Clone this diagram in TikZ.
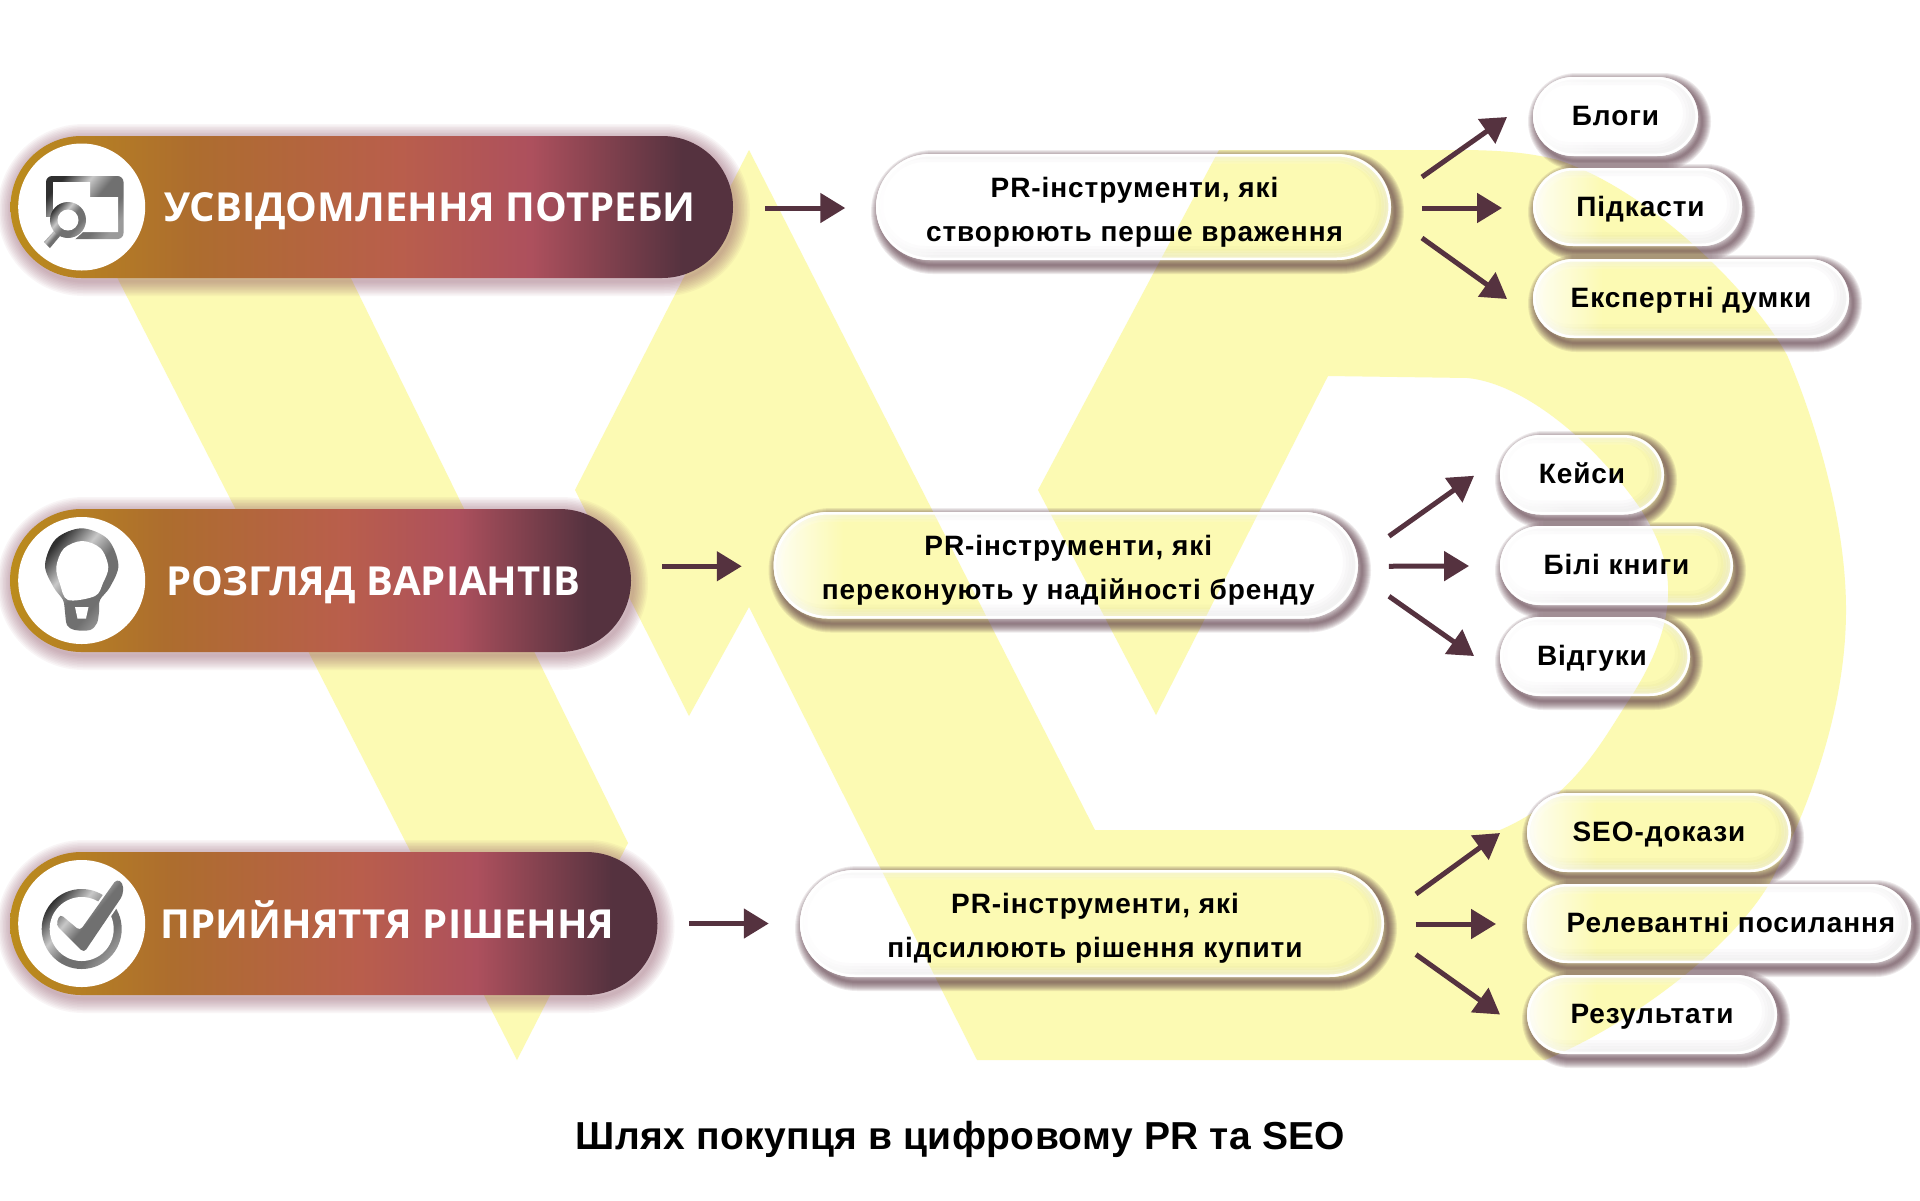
\documentclass[tikz,border=0pt]{standalone}
\usepackage{fontspec}
\usetikzlibrary{arrows.meta,fadings}
\newfontfamily\lightf[LetterSpace=3.3]{Liberation Sans}
\newfontfamily\darkf{Open Sans}
\newfontfamily\titlef[LetterSpace=0.9]{Liberation Sans}
\definecolor{g1}{HTML}{BB8C1C}
\definecolor{g2}{HTML}{AD6D2E}
\definecolor{g3}{HTML}{B95E4C}
\definecolor{g4}{HTML}{AD505D}
\definecolor{g5}{HTML}{55323F}
\definecolor{glow}{HTML}{8A4A60}
\definecolor{logoy}{HTML}{FCFAB3}
\definecolor{arrowc}{HTML}{55323F}
\definecolor{m1}{HTML}{303030}
\definecolor{m2}{HTML}{C8C8C8}
\definecolor{m3}{HTML}{707070}
\definecolor{m4}{HTML}{9A9A9A}
\pgfdeclarehorizontalshading{pillgrad}{100bp}{color(0bp)=(g1); color(25bp)=(g1); color(37.5bp)=(g2); color(52bp)=(g3); color(61bp)=(g4); color(71.5bp)=(g5); color(100bp)=(g5)}
\pgfdeclarehorizontalshading{metal}{100bp}{color(0bp)=(m1); color(25bp)=(m1); color(40bp)=(m2); color(52bp)=(m3); color(65bp)=(m3); color(75bp)=(m4); color(100bp)=(m4)}
\def\pillp{(\xa+\rr,\ya) -- (\xb-\rr,\ya) .. controls (\xb-\kk,\ya) and (\xb,\ya+\kk) .. (\xb,\ya+\rr) .. controls (\xb,\yb-\kk) and (\xb-\kk,\yb) .. (\xb-\rr,\yb) -- (\xa+\rr,\yb) .. controls (\xa+\kk,\yb) and (\xa,\yb-\kk) .. (\xa,\ya+\rr) .. controls (\xa,\ya+\kk) and (\xa+\kk,\ya) .. (\xa+\rr,\ya) -- cycle}
\newcommand\setpill[4]{\pgfmathsetmacro\xa{#1}\pgfmathsetmacro\ya{#2}\pgfmathsetmacro\xb{#3}\pgfmathsetmacro\yb{#4}\pgfmathsetmacro\rr{(#4-#2)/2}\pgfmathsetmacro\kk{\rr*0.4477}\pgfmathsetmacro\wid{(#3-#1)*0.5}\pgfmathsetmacro\hei{(#4-#2)*0.5}\pgfmathsetmacro\crad{(#4-#2)*0.25}}
\newcommand\sline[1]{\raisebox{0pt}[9pt][0pt]{#1}}
\newcommand\dline[1]{\raisebox{0pt}[14.5pt][0pt]{#1}}
\newcommand\tline{\rule{0pt}{15pt}}
% name, x1, y1, x2, y2, text
\newcommand\lpill[6]{%
 \setpill{#2}{#3}{#4}{#5}%
 \begin{scope}
  \clip (-100,-100) -- (-100,1300) -- (2100,1300) -- (2100,-100) -- cycle \pillp;
  \begin{scope}[shift={(4,5)}]
   \foreach \w in {2,4,6,8,10,12,14,16,18}
    \draw[draw=g5,draw opacity=0.10,line width=\w*0.5pt] \pillp;
  \end{scope}
 \end{scope}
 \begin{scope}
  \clip \pillp;
  \begin{scope}[shift={(-4,-3)}]
   \foreach \w in {4,10,16,22}
    \draw[draw=g5,draw opacity=0.02,line width=\w*0.5pt] \pillp;
  \end{scope}
  \fill[white,fill opacity=0.85,path fading=east] (\xa,\ya) rectangle (\xa+70,\yb);
  \foreach \w in {4,9,14,19}
   \draw[draw=white,draw opacity=0.14,line width=\w*0.5pt] \pillp;
 \end{scope}
 \node[lightbox,minimum width=\wid pt-1.25pt,minimum height=\hei pt-1.25pt,rounded corners=\crad pt] (#1) at ({(\xa+\xb)/2},{(\ya+\yb)/2}) {#6};
}
% name, x1, y1, x2, y2, text
\newcommand\dpill[6]{%
 \setpill{#2}{#3}{#4}{#5}%
 \begin{scope}[shift={(2,3)}]
  \foreach \w in {3,6,9,12,15,18,21,24,27,30}
   \draw[draw=glow,draw opacity=0.05,line width=\w*0.5pt] \pillp;
 \end{scope}
 \node[darkbox,minimum width=\wid pt,minimum height=\hei pt,rounded corners=\crad pt] (#1) at ({(\xa+\xb)/2},{(\ya+\yb)/2}) {#6};
}
\tikzset{
 lightbox/.style={rectangle,draw=white,line width=1.25pt,inner sep=0pt,outer sep=0pt,align=center,text=black,font=\lightf\bfseries\fontsize{14}{22}\selectfont},
 darkbox/.style={rectangle,shade,shading=pillgrad,inner sep=0pt,outer sep=0pt,text=white,font=\darkf\bfseries\fontsize{20}{24}\selectfont},
 dot/.style={circle,fill=white,inner sep=0pt,outer sep=0pt,minimum size=63.5pt},
 arr/.style={draw=arrowc,line width=2.5pt,-{Triangle[length=12.5pt,width=14.5pt]}},
 titlebox/.style={inner sep=0pt,text=black,font=\titlef\bfseries\fontsize{19.5}{23}\selectfont},
 metalfill/.style={shade,shading=metal,shading angle=-40,draw=none}
}
\begin{document}
\begin{tikzpicture}[x=0.5pt,y=-0.5pt]
\useasboundingbox (0,0) rectangle (1920,1200);
\fill[white] (0,0) rectangle (1920,1200);
% logo
\fill[logoy] (52,150) -- (288,150) -- (628,843) -- (517,1060) -- cycle;
\fill[logoy,line join=round] (749,150) -- (575,490) -- (689,716) -- (749,607) -- (977,1060) -- (1545,1060)
 .. controls (1640,1020) and (1740,940) .. (1773,877)
 .. controls (1800,825) and (1846,720) .. (1846,610)
 .. controls (1846,500) and (1800,385) .. (1787,355)
 .. controls (1750,290) and (1650,190) .. (1558,160)
 .. controls (1520,150) and (1480,150) .. (1450,150)
 -- (1219,150) -- (1038,490) -- (1156,715) -- (1328,376) -- (1468,378)
 .. controls (1530,385) and (1600,450) .. (1640,508)
 .. controls (1670,555) and (1690,610) .. (1625,706)
 .. controls (1600,745) and (1570,800) .. (1500,830)
 -- (1095,830) -- cycle;
% dark pills
\dpill{p1}{10.5}{136}{733}{278}{\hspace*{58pt}\dline{УСВІДОМЛЕННЯ ПОТРЕБИ}}
\dpill{p2}{10}{509}{631}{652}{\hspace*{53pt}\dline{РОЗГЛЯД ВАРІАНТІВ}}
\dpill{p3}{10}{852}{657.5}{995}{\hspace*{54pt}\dline{ПРИЙНЯТТЯ РІШЕННЯ}}
\node[dot] (c1) at (81.7,207) {};
\node[dot] (c2) at (81.7,580.5) {};
\node[dot] (c3) at (81.7,923.5) {};
% icon 1
\path[metalfill,rounded corners=3pt] (46,176) rectangle (123.5,239);
\fill[white] (53,182) -- (90,182) -- (90,197) -- (118,197) -- (118,232) -- (83,232) -- (72,242) -- (46,248) -- (45,217) -- (53,217) -- cycle;
\path[metalfill] (55,230) -- (60,236) -- (50,248) -- (44,242) -- cycle;
\path[metalfill] (68,220) circle[radius=18];
\fill[white] (68,220) circle[radius=10.5];
% icon 2
\path[metalfill] plot[smooth cycle,tension=.55] coordinates {(81.7,528.3) (107.6,539) (118.4,565) (110,587) (100,600) (99,612) (97,623) (90,630) (75,630) (67,625) (65,612) (63,600) (53.5,587) (45,565) (55.8,539)};
\fill[white] plot[smooth cycle,tension=.55] coordinates {(82.3,541) (100.7,548.5) (108.3,567) (103,583) (95,596) (68,600) (60,584) (56.3,567) (63.9,548.5)};
\fill[white] (75,607) -- (88.5,607) -- (86,618.5) -- (77.5,618.5) -- cycle;
% icon 3
\path[metalfill] (81.7,929) circle[radius=40];
\fill[white] (81.7,929) circle[radius=32];
\draw[white,line width=2pt,line join=round] (60,914) -- (80,930.7) -- (116.7,879) -- (123,883) -- (123,895) -- (84,952.7) -- (56,925) -- cycle;
\path[metalfill,rounded corners=2pt] (60,914) -- (80,930.7) -- (116.7,879) -- (123,883) -- (123,895) -- (84,952.7) -- (56,925) -- cycle;
% light pills
\lpill{m1}{876}{154}{1391}{260}{\tline\hspace*{1pt}PR-інструменти, які\\\hspace*{1pt}створюють перше враження}
\lpill{m2}{773.5}{512}{1358}{618.5}{\tline\hspace*{2.5pt}PR-інструменти, які\\\hspace*{2.5pt}переконують у надійності бренду}
\lpill{m3}{800}{870}{1384}{977}{\tline\hspace*{3pt}PR-інструменти, які\\\hspace*{3pt}підсилюють рішення купити}
\lpill{b1}{1533}{77}{1698}{156}{\sline{Блоги}}
\lpill{b2}{1533}{168}{1742}{246}{\hspace*{3pt}\sline{Підкасти}}
\lpill{b3}{1533}{259}{1849}{338}{\sline{Експертні думки}}
\lpill{b4}{1500}{435}{1664}{514.5}{\sline{Кейси}}
\lpill{b5}{1500}{526}{1733}{605}{\sline{Білі книги}}
\lpill{b6}{1500}{617}{1690}{696}{\sline{Відгуки}\hspace*{3pt}}
\lpill{b7}{1527}{793}{1791}{872}{\sline{SEO-докази}}
\lpill{b8}{1527}{884}{1911}{963}{\hspace*{12pt}\sline{Релевантні посилання}}
\lpill{b9}{1527}{975}{1777}{1054}{\sline{Результати}}
% connectors
\draw[arr] ([shift={(32,1)}]p1.east) -- ([shift={(-32,1)}]m1.west);
\draw[arr] ([shift={(31,-14.25)}]p2.east) -- ([shift={(-33,1)}]m2.west);
\draw[arr] ([shift={(31.5,0)}]p3.east) -- ([shift={(-32.5,0)}]m3.west);
\draw[arr] ([shift={(32.2,-30)}]m1.east) -- ([shift={(-27.2,0.5)}]b1.west);
\draw[arr] ([shift={(32.2,1)}]m1.east) -- ([shift={(-32.2,1)}]b2.west);
\draw[arr] ([shift={(32.2,31)}]m1.east) -- ([shift={(-27.2,0.5)}]b3.west);
\draw[arr] ([shift={(32.2,-29)}]m2.east) -- ([shift={(-27.2,1)}]b4.west);
\draw[arr] ([shift={(32.2,1)}]m2.east) -- ([shift={(-32.2,0.5)}]b5.west);
\draw[arr] ([shift={(32.2,31)}]m2.east) -- ([shift={(-27.2,-0.5)}]b6.west);
\draw[arr] ([shift={(33.2,-29.5)}]m3.east) -- ([shift={(-28.2,0.5)}]b7.west);
\draw[arr] ([shift={(33.2,0.5)}]m3.east) -- ([shift={(-32.2,0.5)}]b8.west);
\draw[arr] ([shift={(33.2,31)}]m3.east) -- ([shift={(-28.2,0)}]b9.west);
% title
\node[titlebox] (title) at (960.5,1139.5) {Шлях покупця в цифровому PR та SEO};
\end{tikzpicture}
\end{document}
